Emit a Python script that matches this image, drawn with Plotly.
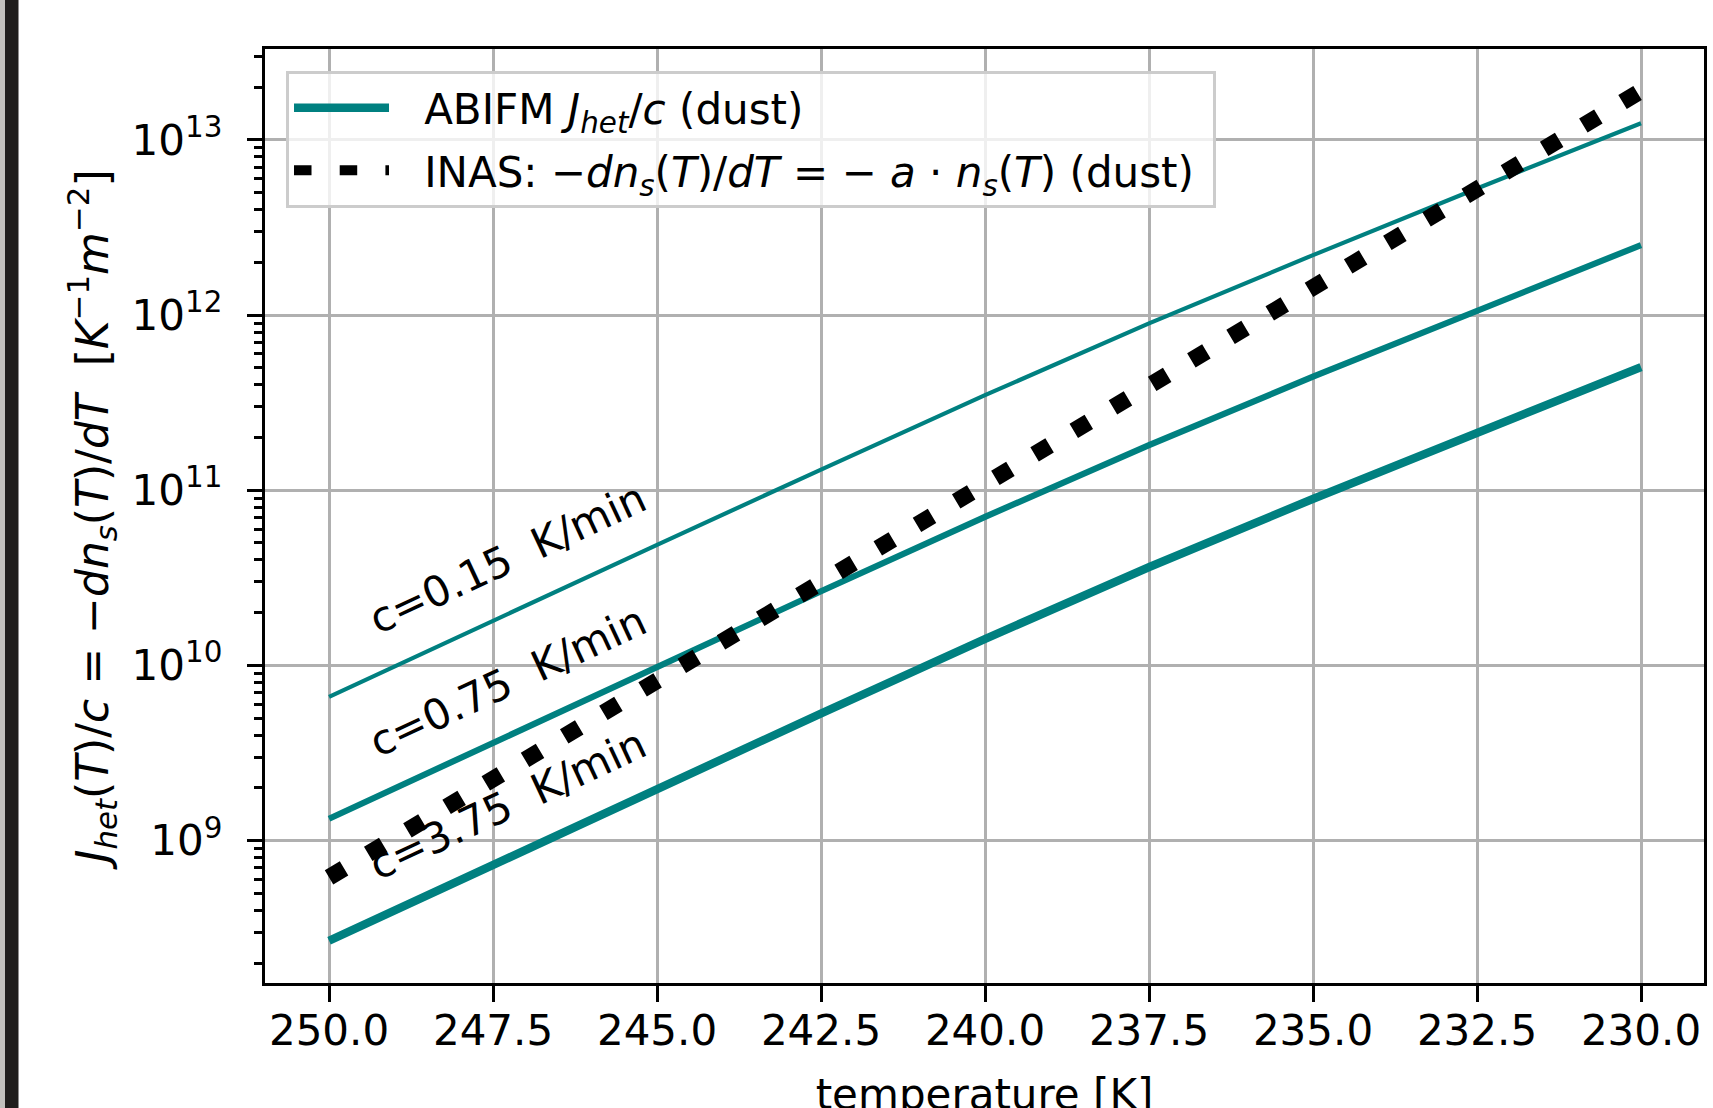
import plotly.graph_objects as go

# ---- data ----
temperature = [250.0, 247.5, 245.0, 242.5, 240.0, 237.5, 235.0, 232.5, 230.0]
abifm_c015 = [6.61e9, 1.80e10, 4.88e10, 1.312e11, 3.49e11, 8.97e11, 2.20e12, 5.28e12, 1.245e13]
abifm_c075 = [1.333e9, 3.63e9, 9.84e9, 2.65e10, 7.05e10, 1.811e11, 4.45e11, 1.067e12, 2.51e12]
abifm_c375 = [2.68e8, 7.29e8, 1.977e9, 5.32e9, 1.416e10, 3.64e10, 8.93e10, 2.14e11, 5.05e11]
inas_dust = [6.17e8, 2.24e9, 8.13e9, 2.95e10, 1.096e11, 3.98e11, 1.445e12, 5.25e12, 1.905e13]

rate_labels = ["c=0.15&nbsp; K/min", "c=0.75&nbsp; K/min", "c=3.75&nbsp; K/min"]
label_x = [247.28, 247.28, 247.28]
label_logy = [10.609, 9.909, 9.205]

x_tickvals = [250.0, 247.5, 245.0, 242.5, 240.0, 237.5, 235.0, 232.5, 230.0]
x_ticktext = ["250.0", "247.5", "245.0", "242.5", "240.0", "237.5", "235.0", "232.5", "230.0"]
y_tickvals = [1e9, 1e10, 1e11, 1e12, 1e13]
y_ticktext = ["10<sup>9</sup>", "10<sup>10</sup>", "10<sup>11</sup>", "10<sup>12</sup>", "10<sup>13</sup>"]
y_minor = [k * 10.0 ** e for e in range(8, 14) for k in range(2, 10)]

TEAL = "#008080"
FONT = "DejaVu Sans"
FS = 42
GAP = "\u00a0\u2009\u2009"

fig = go.Figure()
fig.add_trace(go.Scatter(x=temperature, y=abifm_c015, mode="lines",
                         line=dict(color=TEAL, width=4.2), showlegend=False))
fig.add_trace(go.Scatter(x=temperature, y=abifm_c075, mode="lines",
                         line=dict(color=TEAL, width=6.2), showlegend=False))
fig.add_trace(go.Scatter(x=temperature, y=abifm_c375, mode="lines", legendgroup="abifm",
                         line=dict(color=TEAL, width=8.3),
                         name=GAP + "ABIFM <i>J</i><sub><i>het</i></sub>/<i>c</i> (dust)"))
fig.add_trace(go.Scatter(x=temperature, y=inas_dust, mode="lines", legendgroup="inas",
                         line=dict(color="black", width=16.5, dash="17.5px,28.2px"),
                         name=GAP + "INAS: −<i>dn</i><sub><i>s</i></sub>(<i>T</i>)/<i>dT</i> = − <i>a</i> · <i>n</i><sub><i>s</i></sub>(<i>T</i>) (dust)\u00a0"))

for txt, lx, ly in zip(rate_labels, label_x, label_logy):
    fig.add_annotation(x=lx, y=ly, xref="x", yref="y", text=txt, showarrow=False,
                       textangle=-25, font=dict(family=FONT, size=FS, color="black"),
                       xanchor="center", yanchor="middle")

# left-edge strip seen in the reference
L, W = 265.0, 1439.0
fig.add_shape(type="rect", xref="paper", yref="paper", x0=(0 - L) / W, x1=(5 - L) / W,
              y0=-1, y1=2, fillcolor="#c2c1bd", line_width=0, layer="above")
fig.add_shape(type="rect", xref="paper", yref="paper", x0=(5 - L) / W, x1=(18.5 - L) / W,
              y0=-1, y1=2, fillcolor="#201e1c", line_width=0, layer="above")

fig.update_xaxes(
    range=[250.976, 229.04], tickvals=x_tickvals, ticktext=x_ticktext,
    showline=True, linecolor="black", linewidth=3.3, mirror=True,
    ticks="outside", ticklen=16, tickwidth=3.3, tickcolor="black",
    showgrid=True, gridcolor="#b0b0b0", gridwidth=3,
    tickfont=dict(family=FONT, size=FS, color="black"), ticklabelstandoff=-8,
    title=dict(text="temperature [K]", font=dict(family=FONT, size=FS, color="black"), standoff=39),
    zeroline=False,
)
fig.update_yaxes(
    type="log", range=[8.187, 13.519], tickvals=y_tickvals, ticktext=y_ticktext,
    showline=True, linecolor="black", linewidth=3.3, mirror=True,
    ticks="outside", ticklen=15, tickwidth=3.3, tickcolor="black",
    showgrid=True, gridcolor="#b0b0b0", gridwidth=3,
    tickfont=dict(family=FONT, size=FS, color="black"), ticklabelstandoff=16,
    minor=dict(tickvals=y_minor, ticks="outside", ticklen=8, tickwidth=2.5,
               tickcolor="black", showgrid=False),
    title=dict(text="<i>J</i><sub><i>het</i></sub>(<i>T</i>)/<i>c</i> = −<i>dn</i><sub><i>s</i></sub>(<i>T</i>)/<i>dT</i>&nbsp; [<i>K</i><sup>−1</sup><i>m</i><sup>−2</sup>]",
               font=dict(family=FONT, size=44, color="black"), standoff=10),
    zeroline=False,
)

fig.update_layout(
    width=1713, height=1119,
    margin=dict(l=265, r=9, t=49, b=135.5, autoexpand=False),
    paper_bgcolor="white", plot_bgcolor="white",
    font=dict(family=FONT, size=FS, color="black"),
    legend=dict(x=0.0146, y=0.9765, xanchor="left", yanchor="top",
                bgcolor="rgba(255,255,255,0.8)", bordercolor="#cccccc", borderwidth=3,
                font=dict(family=FONT, size=FS, color="black"),
                itemwidth=95, tracegroupgap=5),
)

fig.write_html("out.html", config={"displayModeBar": False},
               post_script="document.body.style.margin='0';document.body.style.overflow='hidden';")
